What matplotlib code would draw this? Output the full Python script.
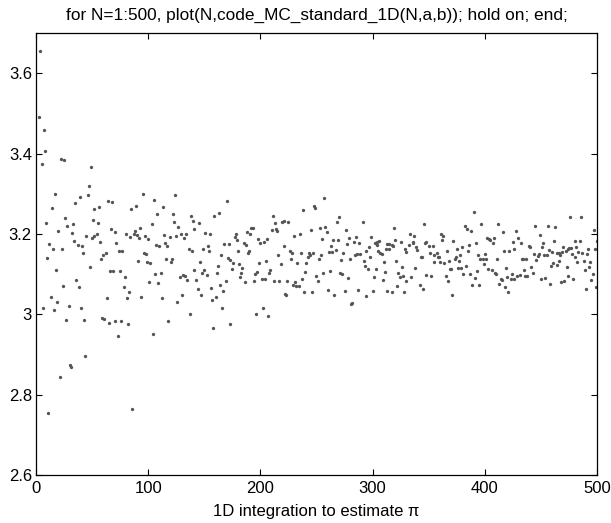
import matplotlib
matplotlib.use("Agg")
import matplotlib.pyplot as plt

plt.rcParams["font.family"] = ["Liberation Sans", "DejaVu Sans"]

# Monte Carlo estimates of pi for sample sizes N = 1..500
n_a = [4, 3, 7, 8, 5, 22, 25, 49, 17, 47, 46, 39, 35, 14, 64, 68, 52, 56, 9, 26, 51, 55, 28, 33,
       20, 32, 67, 70, 45, 50, 52, 54, 12, 34, 37, 41, 57, 71, 15, 23, 42, 62, 60, 58, 10, 48,
       18, 66, 69, 36, 24, 38, 13, 19, 63, 6, 16, 29, 40, 27, 43, 59, 61, 65, 70, 44, 30, 31, 21, 11]
est_a = [3.656, 3.491, 3.458, 3.407, 3.375, 3.388, 3.385, 3.367, 3.300, 3.319, 3.297, 3.293,
         3.278, 3.265, 3.283, 3.279, 3.263, 3.267, 3.227, 3.241, 3.234, 3.228, 3.221, 3.225,
         3.208, 3.203, 3.212, 3.205, 3.196, 3.191, 3.194, 3.201, 3.175, 3.183, 3.173, 3.171,
         3.179, 3.177, 3.162, 3.162, 3.154, 3.154, 3.148, 3.138, 3.141, 3.119, 3.111, 3.109,
         3.109, 3.085, 3.070, 3.068, 3.043, 3.030, 3.041, 3.017, 3.010, 3.020, 3.017, 2.985,
         2.986, 2.992, 2.989, 2.979, 2.983, 2.896, 2.873, 2.868, 2.843, 2.755]

n_b = [74, 77, 75, 79, 78, 83, 81, 76, 82, 73, 80, 84, 85, 89, 88, 87, 90, 92, 93, 95, 91, 96,
       98, 99, 102, 97, 100, 94, 103, 101, 105, 108, 113, 106, 111, 109, 112, 104, 107, 110, 114,
       115, 117, 119, 116, 120, 121, 118, 124, 122, 123, 127, 125, 129, 132, 134, 138, 140, 141,
       136, 139, 141, 128, 131, 133, 135, 130, 126, 137, 86]
est_b = [3.158, 3.157, 3.109, 3.092, 3.069, 3.055, 3.041, 2.983, 2.976, 2.947, 3.200, 3.192,
         3.262, 3.271, 3.207, 3.199, 3.197, 3.189, 3.215, 3.300, 3.133, 3.153, 3.150, 3.131,
         3.129, 3.196, 3.188, 3.044, 3.224, 3.081, 3.285, 3.251, 3.268, 3.101, 3.103, 3.078,
         3.041, 2.952, 3.173, 3.171, 3.198, 3.178, 3.169, 3.192, 3.137, 3.130, 3.138, 2.983,
         3.297, 3.251, 3.229, 3.217, 3.196, 3.199, 3.190, 3.201, 3.246, 3.233, 3.213, 3.164,
         3.158, 3.110, 3.092, 3.097, 3.095, 3.085, 3.049, 3.031, 3.001, 2.765]

n_c = [145, 146, 143, 144, 147, 170, 159, 163, 151, 155, 149, 153, 154, 150, 148, 152, 156, 157,
       160, 158, 162, 161, 165, 164, 167, 169, 166, 168, 172, 171, 173, 176, 175, 173, 178, 177,
       179, 180, 181, 184, 183, 182, 186, 185, 187, 188, 191, 192, 193, 189, 190, 198, 200, 203,
       206, 210, 211, 213, 214, 199, 205, 209, 208, 195, 197, 194, 201, 204, 212, 196, 202, 207]
est_c = [3.228, 3.131, 3.085, 3.062, 3.048, 3.282, 3.246, 3.252, 3.202, 3.201, 3.163, 3.169,
         3.158, 3.110, 3.103, 3.097, 3.066, 3.036, 3.043, 2.965, 3.121, 3.104, 3.147, 3.072,
         3.058, 3.084, 3.015, 3.175, 3.175, 3.141, 3.135, 3.129, 3.113, 2.977, 3.200, 3.192,
         3.184, 3.158, 3.125, 3.115, 3.104, 3.093, 3.080, 3.178, 3.173, 3.204, 3.199, 3.216,
         3.216, 3.153, 3.157, 3.187, 3.178, 3.179, 3.187, 3.210, 3.245, 3.228, 3.212, 3.128,
         3.132, 3.110, 3.102, 3.101, 3.105, 3.083, 3.087, 3.089, 3.083, 3.002, 3.017, 2.997]

n_d = [215, 217, 216, 218, 219, 221, 225, 221, 224, 222, 223, 226, 228, 227, 229, 230, 235, 231,
       232, 234, 233, 236, 238, 237, 240, 239, 241, 242, 243, 244, 247, 245, 246, 248, 249, 250,
       251, 252, 254, 253, 255, 257, 258, 259, 256, 261, 262, 260, 263, 264, 265, 266, 267, 268,
       270, 269, 271, 273, 274, 272, 275, 276, 277, 279, 280, 278, 281, 282, 283, 284, 285]
est_d = [3.208, 3.084, 3.148, 3.125, 3.229, 3.232, 3.231, 3.169, 3.084, 3.050, 3.049, 3.158,
         3.154, 3.139, 3.072, 3.196, 3.201, 3.081, 3.070, 3.070, 3.128, 3.154, 3.261, 3.087,
         3.105, 3.056, 3.128, 3.143, 3.154, 3.148, 3.154, 3.210, 3.055, 3.270, 3.264, 3.095,
         3.084, 3.139, 3.147, 3.215, 3.188, 3.290, 3.218, 3.204, 3.104, 3.155, 3.109, 3.061,
         3.170, 3.155, 3.185, 3.048, 3.161, 3.230, 3.243, 3.184, 3.104, 3.100, 3.153, 3.136,
         3.057, 3.211, 3.176, 3.191, 3.139, 3.090, 3.026, 3.029, 3.180, 3.147, 3.193]

n_e = [288, 289, 291, 286, 292, 293, 294, 296, 297, 298, 299, 302, 303, 304, 304, 305, 306, 307,
       308, 301, 300, 294, 287, 310, 311, 309, 312, 313, 315, 315, 318, 317, 319, 320, 321, 323,
       324, 325, 326, 327, 322, 313, 317, 328, 330, 329, 330, 332, 333, 334, 336, 337, 336, 338,
       339, 340, 342, 343, 344, 345, 346, 347, 348, 348, 350, 351, 352, 354, 355, 355]
est_e = [3.177, 3.150, 3.229, 3.151, 3.133, 3.121, 3.159, 3.112, 3.168, 3.144, 3.193, 3.178,
         3.112, 3.173, 3.180, 3.159, 3.183, 3.154, 3.150, 3.093, 3.059, 3.046, 3.061, 3.131,
         3.106, 3.085, 3.164, 3.174, 3.174, 3.162, 3.170, 3.172, 3.216, 3.185, 3.134, 3.102,
         3.093, 3.180, 3.119, 3.095, 3.070, 3.058, 3.055, 3.056, 3.084, 3.162, 3.156, 3.173,
         3.200, 3.093, 3.180, 3.195, 3.178, 3.115, 3.168, 3.160, 3.072, 3.142, 3.142, 3.064,
         3.226, 3.177, 3.179, 3.098, 3.169, 3.152, 3.095, 3.171, 3.147, 3.130]

n_f = [357, 358, 359, 360, 361, 363, 362, 364, 366, 365, 367, 368, 369, 370, 371, 372, 373, 374,
       375, 376, 377, 378, 379, 380, 381, 382, 383, 384, 385, 386, 387, 388, 389, 390, 391, 392,
       393, 394, 395, 396, 397, 398, 399, 400, 401, 402, 403, 404, 405, 406, 407, 408, 409, 410,
       411, 412, 413, 414, 415, 416, 417, 418, 419, 420, 421, 422, 423, 424, 425, 426, 426, 428]
est_f = [3.153, 3.144, 3.143, 3.130, 3.199, 3.195, 3.184, 3.127, 3.157, 3.095, 3.082, 3.132,
         3.113, 3.113, 3.047, 3.183, 3.139, 3.142, 3.162, 3.116, 3.133, 3.147, 3.116, 3.168,
         3.100, 3.221, 3.121, 3.213, 3.157, 3.173, 3.100, 3.207, 3.072, 3.254, 3.091, 3.178,
         3.109, 3.147, 3.074, 3.139, 3.226, 3.139, 3.125, 3.150, 3.139, 3.191, 3.114, 3.188,
         3.184, 3.110, 3.177, 3.189, 3.104, 3.101, 3.138, 3.225, 3.076, 3.088, 3.085, 3.205,
         3.158, 3.067, 3.115, 3.093, 3.055, 3.159, 3.088, 3.101, 3.180, 3.163, 3.088, 3.207]

n_g = [430, 432, 429, 431, 433, 434, 437, 435, 436, 438, 439, 440, 441, 443, 444, 445, 446, 447,
       448, 449, 450, 451, 452, 453, 454, 455, 456, 457, 458, 459, 460, 461, 462, 463, 464, 464,
       466, 466, 467, 468, 469, 470, 471, 472, 473, 474, 474, 475, 476, 477, 478, 479, 480, 480,
       481, 482, 483, 485, 486, 487, 488, 489, 490, 491, 492, 493, 494, 495, 496, 497, 498, 499, 500]
est_g = [3.190, 3.177, 3.096, 3.099, 3.138, 3.139, 3.139, 3.110, 3.096, 3.095, 3.170, 3.168,
         3.117, 3.104, 3.150, 3.221, 3.135, 3.146, 3.150, 3.197, 3.087, 3.168, 3.177, 3.148,
         3.090, 3.148, 3.221, 3.161, 3.076, 3.120, 3.155, 3.127, 3.183, 3.218, 3.124, 3.154,
         3.153, 3.133, 3.149, 3.080, 3.155, 3.168, 3.084, 3.159, 3.119, 3.163, 3.096, 3.166,
         3.243, 3.165, 3.150, 3.087, 3.142, 3.182, 3.167, 3.131, 3.155, 3.183, 3.242, 3.152,
         3.134, 3.110, 3.063, 3.150, 3.163, 3.119, 3.130, 3.085, 3.100, 3.209, 3.163, 3.067, 3.182]

x_ticks = [0, 100, 200, 300, 400, 500]
y_ticks = [2.6, 2.8, 3.0, 3.2, 3.4, 3.6]
y_tick_labels = ["2.6", "2.8", "3", "3.2", "3.4", "3.6"]

n_all = n_a + n_b + n_c + n_d + n_e + n_f + n_g
est_all = est_a + est_b + est_c + est_d + est_e + est_f + est_g

fig = plt.figure(figsize=(6.11, 5.23), dpi=100)
ax = fig.add_axes([0.0589, 0.0918, 0.9182, 0.8446])

ax.plot(n_all, est_all, linestyle="none", marker="o", markersize=2.4,
        markerfacecolor="#555555", markeredgecolor="none")

ax.set_xlim(0, 500)
ax.set_ylim(2.6, 3.7)
ax.set_xticks(x_ticks)
ax.set_yticks(y_ticks)
ax.set_yticklabels(y_tick_labels)
ax.tick_params(direction="in", length=4, width=0.8, top=True, right=True,
               labelsize=12, colors="black")
ax.tick_params(axis="x", pad=4)
ax.tick_params(axis="y", pad=3)
for s in ax.spines.values():
    s.set_linewidth(0.9)
    s.set_color("black")

ax.set_title("for N=1:500, plot(N,code_MC_standard_1D(N,a,b)); hold on; end;",
             fontsize=12.4, pad=10)
ax.set_xlabel("1D integration to estimate \u03c0", fontsize=12, labelpad=6)

fig.savefig("out.png", dpi=100)
